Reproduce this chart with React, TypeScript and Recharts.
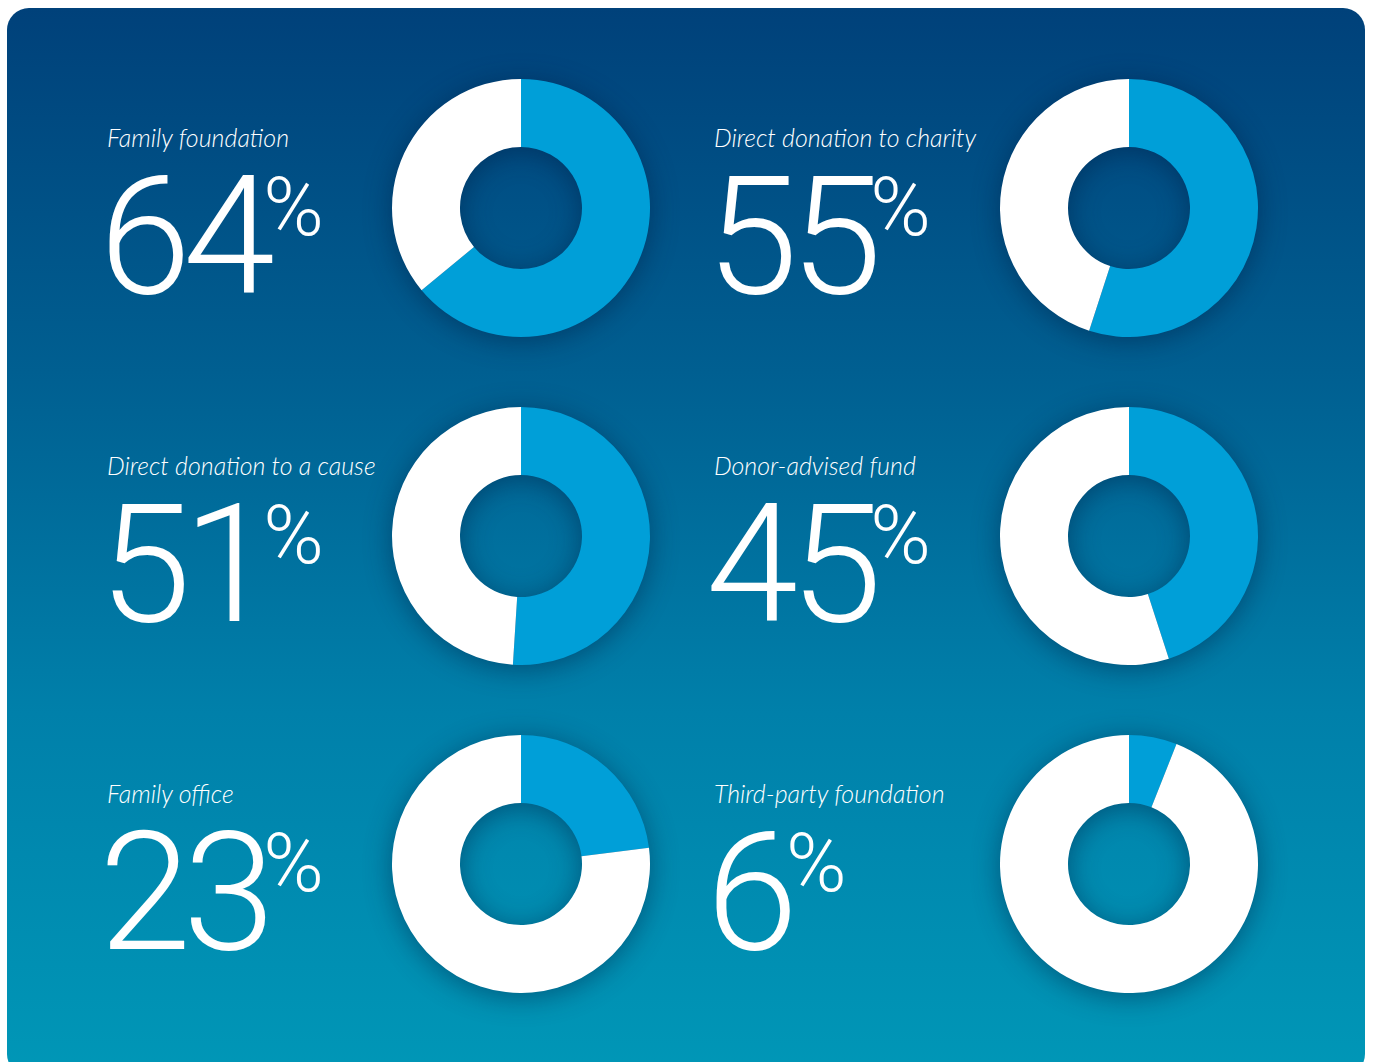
import { PieChart, Pie, Cell } from "recharts";

const categories = [
  "Family foundation",
  "Direct donation to charity",
  "Direct donation to a cause",
  "Donor-advised fund",
  "Family office",
  "Third-party foundation",
];
const shares = [64, 55, 51, 45, 23, 6];

const BLUE = "#009fd8";
const WHITE = "#ffffff";

// grid placement of the six tiles
const colX = [107, 714];
const donutX = [521, 1129];
const rowY = [208, 536, 864];

function Donut({ value, cx, cy }: { value: number; cx: number; cy: number }) {
  const data = [
    { name: "share", value },
    { name: "rest", value: 100 - value },
  ];
  const size = 300;
  return (
    <div
      style={{
        position: "absolute",
        left: cx - size / 2,
        top: cy - size / 2,
        width: size,
        height: size,
        filter: "drop-shadow(0 4px 14px rgba(0, 25, 60, 0.45))",
      }}
    >
      <PieChart width={size} height={size} margin={{ top: 0, right: 0, bottom: 0, left: 0 }}>
        <Pie
          data={data}
          dataKey="value"
          cx={size / 2}
          cy={size / 2}
          innerRadius={61}
          outerRadius={129}
          startAngle={90}
          endAngle={-270}
          stroke="none"
          isAnimationActive={false}
        >
          <Cell fill={BLUE} />
          <Cell fill={WHITE} />
        </Pie>
      </PieChart>
    </div>
  );
}

function Tile({ label, value, x, cy, dx }: { label: string; value: number; x: number; cy: number; dx: number }) {
  return (
    <>
      <div
        style={{
          position: "absolute",
          left: x,
          top: cy - 86,
          fontFamily: "Lato, 'Open Sans', sans-serif",
          fontStyle: "italic",
          fontWeight: 300,
          fontSize: 25,
          lineHeight: "30px",
          color: "#fff",
          whiteSpace: "nowrap",
        }}
      >
        {label}
      </div>
      <div
        style={{
          position: "absolute",
          left: x - 8,
          top: cy - 31,
          fontFamily: "Roboto, Lato, sans-serif",
          fontWeight: 300,
          fontSize: 166,
          lineHeight: "120px",
          letterSpacing: -8,
          color: "#fff",
          whiteSpace: "nowrap",
          display: "flex",
          alignItems: "flex-start",
        }}
      >
        <span>{value}</span>
        <span style={{ fontSize: 82, lineHeight: "82px", marginLeft: -4, marginTop: -11, letterSpacing: 0 }}>%</span>
      </div>
      <Donut value={value} cx={dx} cy={cy} />
    </>
  );
}

export default function App() {
  return (
    <div style={{ position: "relative", width: 1373, height: 1062, overflow: "hidden" }}>
      <style>{`body{margin:0}`}</style>
      <div
        style={{
          position: "absolute",
          left: 7,
          top: 8,
          width: 1358,
          height: 1068,
          borderRadius: 22,
          background: "linear-gradient(180deg, #00417a 0%, #005f91 34%, #0080aa 66%, #0097b7 100%)",
        }}
      />
      {categories.map((c, i) => (
        <Tile
          key={c}
          label={c}
          value={shares[i]}
          x={colX[i % 2]}
          dx={donutX[i % 2]}
          cy={rowY[Math.floor(i / 2)]}
        />
      ))}
    </div>
  );
}
